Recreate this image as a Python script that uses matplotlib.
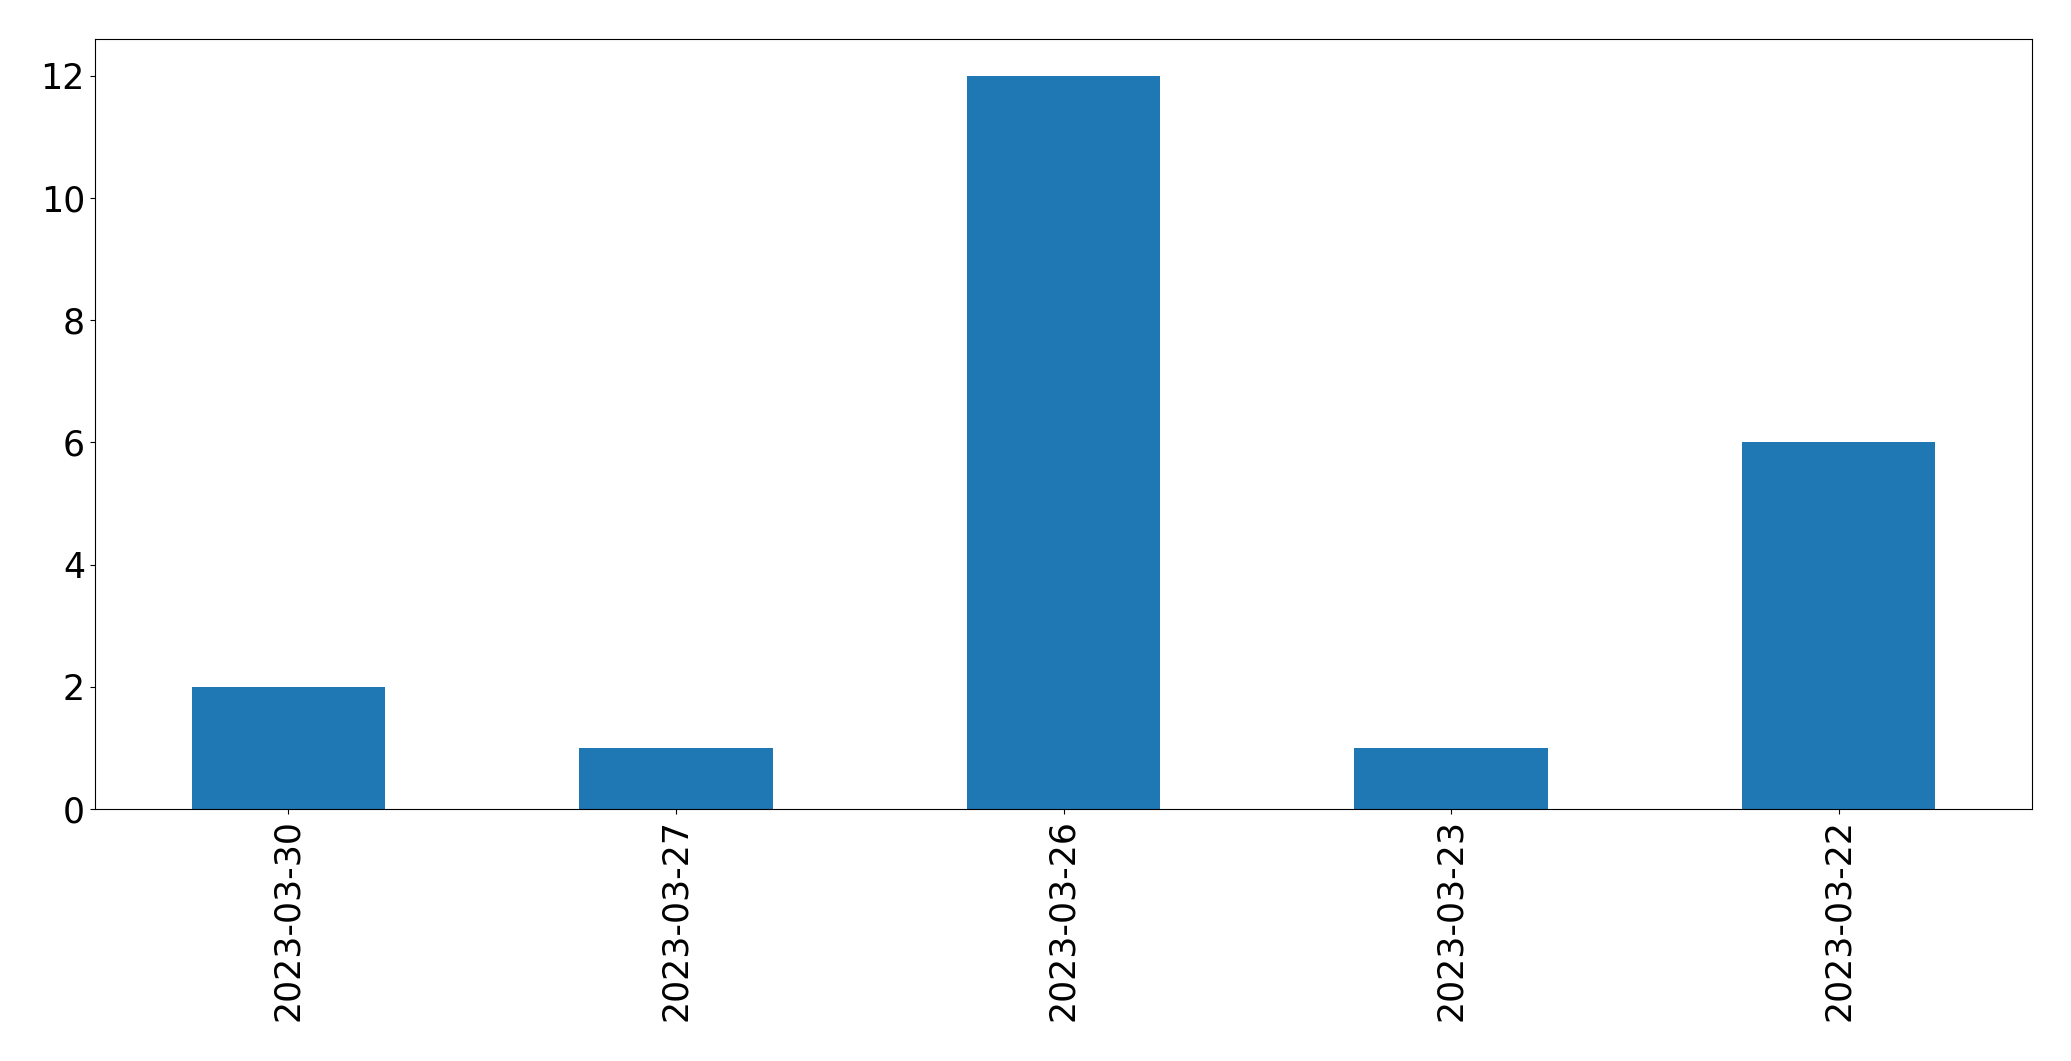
import matplotlib
matplotlib.use("Agg")
import matplotlib.pyplot as plt
import numpy as np

dates = ["2023-03-30", "2023-03-27", "2023-03-26", "2023-03-23", "2023-03-22"]
counts = [2, 1, 12, 1, 6]

fig = plt.figure(figsize=(20.71, 10.61), dpi=100)
ax = fig.add_axes([94.7 / 2071, 1 - 809 / 1061, (2032.3 - 94.7) / 2071, (809 - 39.3) / 1061])
x = np.arange(len(dates))
ax.bar(x, counts, width=0.5, color="#1f77b4")
ax.set_xlim(-0.5, len(dates) - 0.5)
ax.set_xticks(x)
ax.set_xticklabels(dates, rotation=90)
ax.tick_params(axis="both", labelsize=25)
fig.savefig("out.png", dpi=100)
